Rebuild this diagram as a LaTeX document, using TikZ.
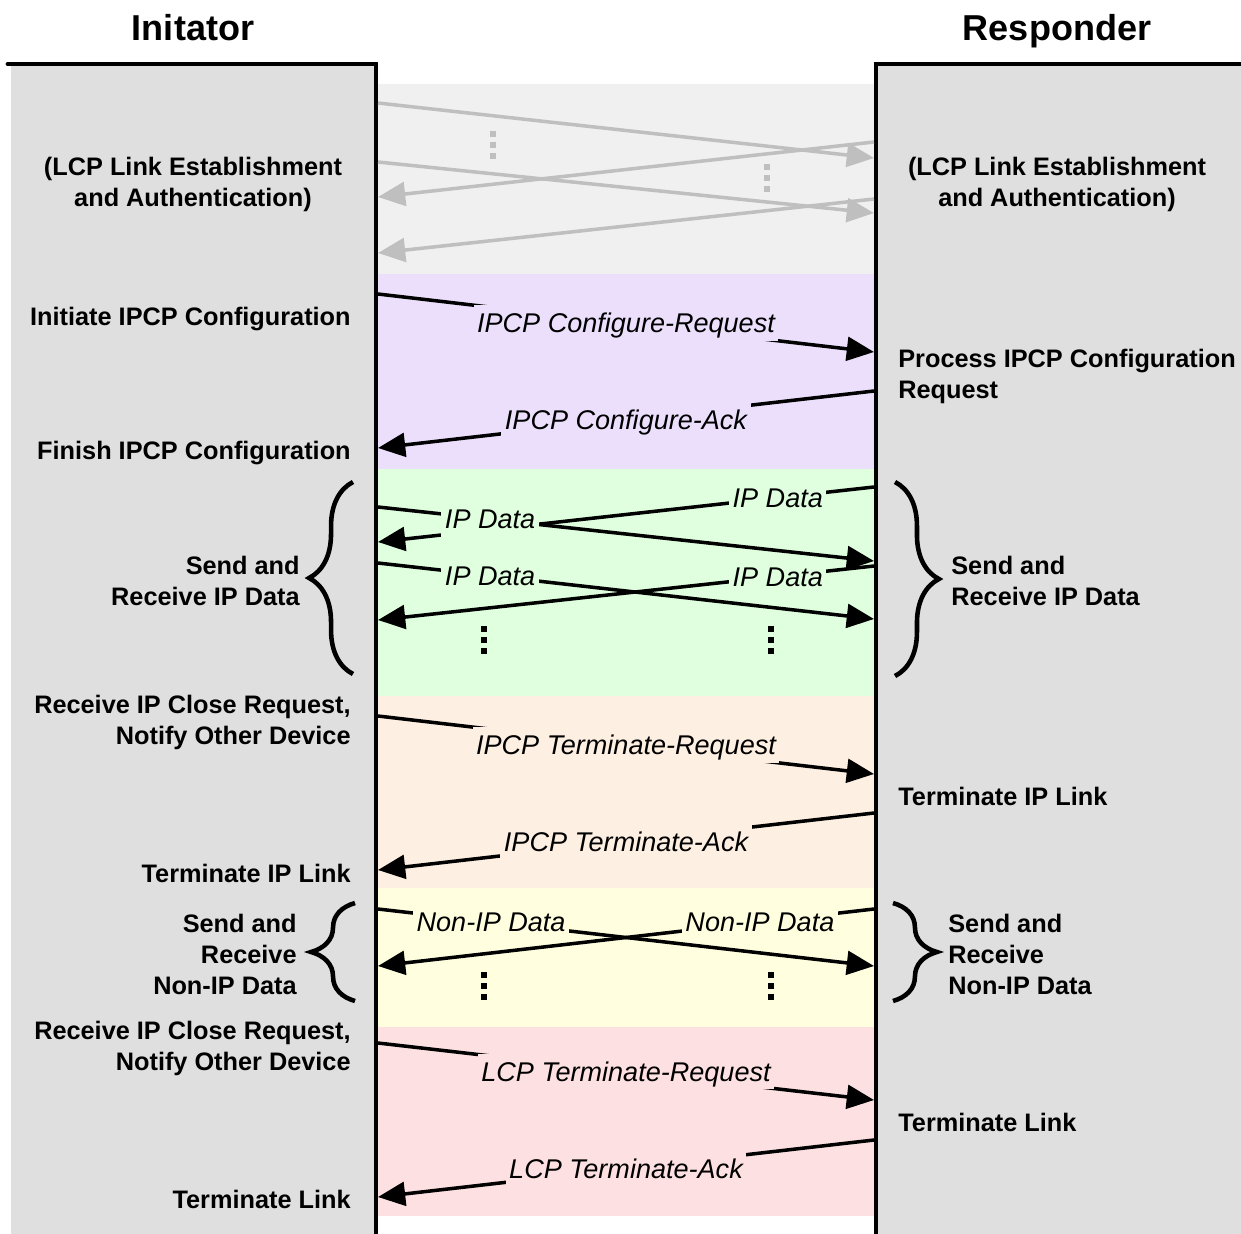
\documentclass[tikz,border=0pt]{standalone}
\usepackage{fontspec}
\setmainfont{Liberation Sans}
\usetikzlibrary{arrows.meta,decorations.pathreplacing}

\definecolor{colgray}{HTML}{DFDFDF}
\definecolor{lcpband}{HTML}{F0F0F0}
\definecolor{cfgband}{HTML}{ECDFFC}
\definecolor{ipband}{HTML}{DFFFDF}
\definecolor{termband}{HTML}{FDEFE2}
\definecolor{nonipband}{HTML}{FFFFE0}
\definecolor{lcptermband}{HTML}{FDE0E1}
\definecolor{oldgray}{HTML}{BFBFBF}

\tikzset{
  headline/.style={font=\bfseries\fontsize{20.5}{24}\selectfont, inner sep=0pt, anchor=north},
  sidetext/.style={font=\bfseries\fontsize{14.4}{17.5}\selectfont, inner sep=0pt},
  lbl/.style={font=\itshape\fontsize{15.4}{18}\selectfont, fill=#1, text height=11pt, text depth=0pt, inner xsep=2pt, inner ysep=4.5pt},
  msg/.style={line width=2pt, -{Triangle[length=15.5pt,width=13.5pt]}},
  oldmsg/.style={msg, oldgray},
  colline/.style={line width=2.8pt, line join=miter, line cap=round},
  curly/.style={line width=2.6pt, decorate, decoration={brace, amplitude=25pt}},
}

\begin{document}
\begin{tikzpicture}[x=0.02cm, y=-0.02cm]
\useasboundingbox (0,0) rectangle (1241,1234);

% phase bands
\fill[lcpband] (376,84) rectangle (876,274);
\fill[cfgband] (376,274) rectangle (876,469);
\fill[ipband] (376,469) rectangle (876,696);
\fill[termband] (376,696) rectangle (876,888);
\fill[nonipband] (376,888) rectangle (876,1027);
\fill[lcptermband] (376,1027) rectangle (876,1216);

% the two devices
\fill[colgray] (11,66) rectangle (376,1234);
\fill[colgray] (876,66) rectangle (1241,1234);
\draw[colline] (8,64) -- (376,64) -- (376,1240);
\draw[colline] (1245,64) -- (876,64) -- (876,1240);

\node[headline] (initTitle) at (193,14) {Initator};
\node[headline] (respTitle) at (1057,14) {Responder};

% LCP phase (greyed out)
\coordinate (lcpAl) at (378,103); \coordinate (lcpAr) at (874,158);
\coordinate (lcpBr) at (874,142); \coordinate (lcpBl) at (378,197);
\coordinate (lcpCl) at (378,162); \coordinate (lcpCr) at (874,213);
\coordinate (lcpDr) at (874,199); \coordinate (lcpDl) at (378,253);
\draw[oldmsg] (lcpAl) -- (lcpAr);
\draw[oldmsg] (lcpBr) -- (lcpBl);
\draw[oldmsg] (lcpCl) -- (lcpCr);
\draw[oldmsg] (lcpDr) -- (lcpDl);
\foreach \x/\y in {493/145,767/178}
  \foreach \d in {-11,0,11}
    \fill[oldgray] (\x-3,\y+\d-3) rectangle (\x+3,\y+\d+3);
\node[sidetext, anchor=north, align=center] (initLcp) at (193,157) {(LCP Link Establishment\\and Authentication)};
\node[sidetext, anchor=north, align=center] (respLcp) at (1057,157) {(LCP Link Establishment\\and Authentication)};

% IPCP configuration
\coordinate (reqL) at (378,294); \coordinate (reqR) at (874,352);
\coordinate (ackR) at (874,391); \coordinate (ackL) at (378,448);
\draw[msg] (reqL) -- node[lbl=cfgband] (reqLbl) {IPCP Configure-Request} (reqR);
\draw[msg] (ackR) -- node[lbl=cfgband] (ackLbl) {IPCP Configure-Ack} (ackL);
\node[sidetext, anchor=north east] (initCfg) at (351,307) {Initiate IPCP Configuration};
\node[sidetext, anchor=north east] (finCfg) at (351,441) {Finish IPCP Configuration};
\node[sidetext, anchor=north west, align=left] (procCfg) at (898,349) {Process IPCP Configuration\\Request};

% IP data
\coordinate (ipBr) at (874,487); \coordinate (ipBl) at (378,542);
\coordinate (ipAl) at (378,507); \coordinate (ipAr) at (874,561);
\coordinate (ipCl) at (378,563); \coordinate (ipCr) at (874,619);
\coordinate (ipDr) at (874,566); \coordinate (ipDl) at (378,620);
\draw[msg] (ipBr) -- node[lbl=ipband, pos=.194] (ipBLbl) {IP Data} (ipBl);
\draw[msg] (ipAl) -- node[lbl=ipband, pos=.226] (ipALbl) {IP Data} (ipAr);
\draw[msg] (ipDr) -- node[lbl=ipband, pos=.194] (ipDLbl) {IP Data} (ipDl);
\draw[msg] (ipCl) -- node[lbl=ipband, pos=.226] (ipCLbl) {IP Data} (ipCr);
\draw[curly] (353,674) -- (353,482);
\draw[curly] (895,482) -- (895,676);
\node[sidetext, anchor=north east, align=right] (initIp) at (300,556) {Send and\\Receive IP Data};
\node[sidetext, anchor=north west, align=left] (respIp) at (951,556) {Send and\\Receive IP Data};

% IPCP termination
\coordinate (treqL) at (378,716); \coordinate (treqR) at (874,774);
\coordinate (tackR) at (874,813); \coordinate (tackL) at (378,870);
\draw[msg] (treqL) -- node[lbl=termband] (treqLbl) {IPCP Terminate-Request} (treqR);
\draw[msg] (tackR) -- node[lbl=termband] (tackLbl) {IPCP Terminate-Ack} (tackL);
\node[sidetext, anchor=north east, align=right] (initClose) at (351,695) {Receive IP Close Request,\\Notify Other Device};
\node[sidetext, anchor=north east] (initTermIp) at (351,864) {Terminate IP Link};
\node[sidetext, anchor=north west] (respTermIp) at (898,787) {Terminate IP Link};

% non-IP data
\coordinate (nonAl) at (378,909); \coordinate (nonAr) at (874,966);
\coordinate (nonBr) at (874,909); \coordinate (nonBl) at (378,966);
\draw[msg] (nonAl) -- node[lbl=nonipband, pos=.228] (nonALbl) {Non-IP Data} (nonAr);
\draw[msg] (nonBr) -- node[lbl=nonipband, pos=.23] (nonBLbl) {Non-IP Data} (nonBl);
\draw[curly] (355,1001) -- (355,903);
\draw[curly] (893,903) -- (893,1001);
\node[sidetext, anchor=north east, align=right] (initNon) at (297,914) {Send and\\Receive\\Non-IP Data};
\node[sidetext, anchor=north west, align=left] (respNon) at (948,914) {Send and\\Receive\\Non-IP Data};

\foreach \x/\y in {484/640,771/640,484/986,771/986}
  \foreach \d in {-11,0,11}
    \fill (\x-3,\y+\d-3) rectangle (\x+3,\y+\d+3);

% LCP termination
\coordinate (lreqL) at (378,1043); \coordinate (lreqR) at (874,1100);
\coordinate (lackR) at (874,1140); \coordinate (lackL) at (378,1197);
\draw[msg] (lreqL) -- node[lbl=lcptermband] (lreqLbl) {LCP Terminate-Request} (lreqR);
\draw[msg] (lackR) -- node[lbl=lcptermband] (lackLbl) {LCP Terminate-Ack} (lackL);
\node[sidetext, anchor=north east, align=right] (initLcpClose) at (351,1021) {Receive IP Close Request,\\Notify Other Device};
\node[sidetext, anchor=north east] (initTermLink) at (351,1190) {Terminate Link};
\node[sidetext, anchor=north west] (respTermLink) at (898,1113) {Terminate Link};
\end{tikzpicture}
\end{document}
